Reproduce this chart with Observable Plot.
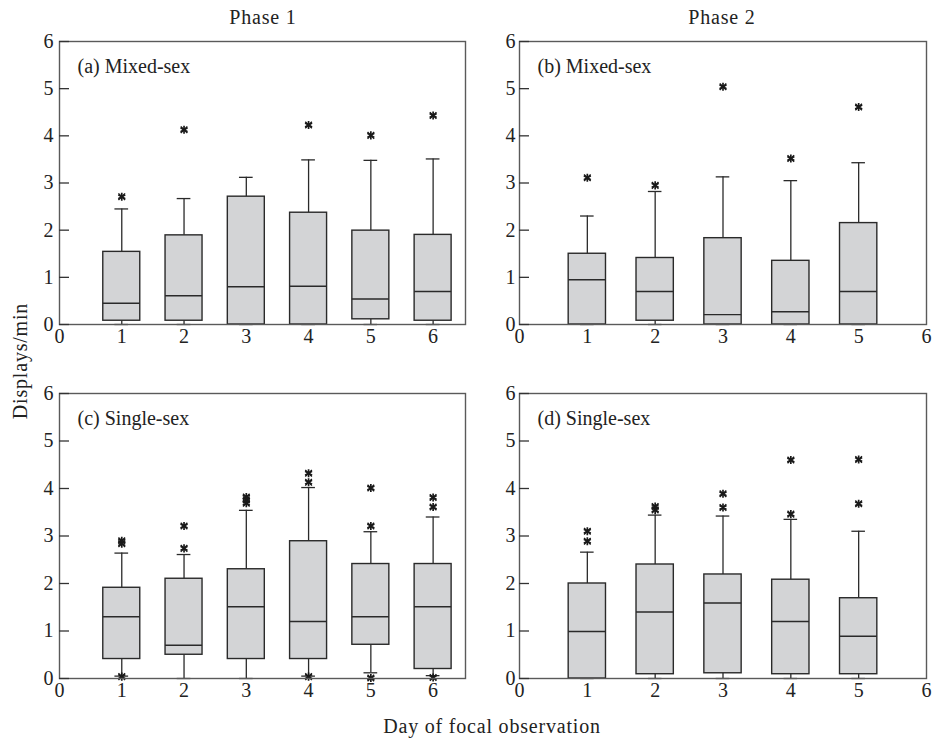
<!DOCTYPE html>
<html><head><meta charset="utf-8">
<script src="https://cdn.jsdelivr.net/npm/d3@7"></script>
<script src="https://cdn.jsdelivr.net/npm/@observablehq/plot@0.6"></script>
<style>
body{margin:0;background:#fff}
#fig{position:relative;width:932px;height:740px;font-family:"Liberation Serif",serif;color:#222}
#fig > svg, #fig > div{position:absolute}
</style>
</head><body><div id="fig"></div>
<script>
// ---- data (Displays/min by day of focal observation) ----
const daysP1 = [1, 2, 3, 4, 5, 6];
const daysP2 = [1, 2, 3, 4, 5];
const yTicks = [0, 1, 2, 3, 4, 5, 6];
const xTicks = [0, 1, 2, 3, 4, 5, 6];

// (a) Phase 1, mixed-sex
const aQ1  = [0.08, 0.08, 0.00, 0.00, 0.11, 0.08];
const aMed = [0.45, 0.61, 0.80, 0.81, 0.54, 0.70];
const aQ3  = [1.54, 1.89, 2.71, 2.37, 1.99, 1.90];
const aLo  = [0.00, 0.00, 0.00, 0.00, 0.00, 0.00];
const aHi  = [2.45, 2.67, 3.12, 3.49, 3.48, 3.51];
const aOut = [[1, 2.71], [2, 4.13], [4, 4.23], [5, 4.01], [6, 4.43]];

// (b) Phase 2, mixed-sex
const bQ1  = [0.00, 0.08, 0.00, 0.00, 0.00];
const bMed = [0.95, 0.70, 0.21, 0.27, 0.70];
const bQ3  = [1.50, 1.41, 1.83, 1.35, 2.15];
const bLo  = [0.00, 0.00, 0.00, 0.00, 0.00];
const bHi  = [2.30, 2.82, 3.13, 3.05, 3.43];
const bOut = [[1, 3.11], [2, 2.95], [3, 5.04], [4, 3.52], [5, 4.61]];

// (c) Phase 1, single-sex
const cQ1  = [0.41, 0.50, 0.41, 0.41, 0.71, 0.20];
const cMed = [1.30, 0.70, 1.51, 1.20, 1.30, 1.51];
const cQ3  = [1.91, 2.10, 2.30, 2.89, 2.41, 2.41];
const cLo  = [0.05, 0.00, 0.00, 0.05, 0.12, 0.06];
const cHi  = [2.64, 2.61, 3.54, 4.02, 3.09, 3.40];
const cOut = [[1, 2.84], [1, 2.90], [1, 0.04], [2, 2.74], [2, 3.21],
              [3, 3.69], [3, 3.76], [3, 3.82], [4, 4.13], [4, 4.32], [4, 0.04],
              [5, 3.21], [5, 4.01], [5, 0.01], [6, 3.61], [6, 3.81], [6, 0.02]];

// (d) Phase 2, single-sex
const dQ1  = [0.00, 0.09, 0.11, 0.09, 0.09];
const dMed = [0.99, 1.40, 1.59, 1.20, 0.89];
const dQ3  = [2.00, 2.40, 2.19, 2.08, 1.69];
const dLo  = [0.00, 0.00, 0.00, 0.00, 0.00];
const dHi  = [2.66, 3.44, 3.42, 3.35, 3.10];
const dOut = [[1, 2.89], [1, 3.10], [2, 3.55], [2, 3.62], [3, 3.60], [3, 3.89],
              [4, 3.46], [4, 4.60], [5, 3.68], [5, 4.61]];

const FONT = "Liberation Serif, Times New Roman, serif";
const fig = document.getElementById("fig");

function panel(o) {
  const rows = o.days.map((d, i) => ({day: d, q1: o.q1[i], med: o.med[i], q3: o.q3[i], lo: o.lo[i], hi: o.hi[i]}));
  const outs = o.out.map(([day, v]) => ({day, v}));
  const ink = "#2a2a2a";
  const hb = o.halfBox, hc = o.halfCap;
  const chart = Plot.plot({
    width: 466, height: 370,
    marginLeft: o.mL, marginRight: o.mR, marginTop: o.mT, marginBottom: o.mB,
    style: {fontFamily: FONT, fontSize: "20px", color: "#222", background: "transparent", overflow: "visible"},
    x: {domain: [0, o.xMax], axis: null},
    y: {domain: [0, 6], axis: null},
    marks: [
      // whiskers
      Plot.ruleX(rows, {x: "day", y1: "q3", y2: "hi", stroke: ink, strokeWidth: 1.3}),
      Plot.ruleX(rows, {x: "day", y1: "lo", y2: "q1", stroke: ink, strokeWidth: 1.3}),
      Plot.ruleY(rows, {y: "hi", x1: d => d.day - hc, x2: d => d.day + hc, stroke: ink, strokeWidth: 1.3}),
      Plot.ruleY(rows, {y: "lo", x1: d => d.day - hc, x2: d => d.day + hc, stroke: ink, strokeWidth: 1.3}),
      // boxes
      Plot.rect(rows, {x1: d => d.day - hb, x2: d => d.day + hb, y1: "q1", y2: "q3",
        fill: "#d3d4d6", stroke: ink, strokeWidth: 1.4}),
      Plot.ruleY(rows, {y: "med", x1: d => d.day - hb, x2: d => d.day + hb, stroke: ink, strokeWidth: 1.4}),
      // outliers
      Plot.dot(outs, {x: "day", y: "v", symbol: "asterisk", r: 3.8, stroke: "#1a1a1a", strokeWidth: 1.7}),
      Plot.dot(outs, {x: "day", y: "v", symbol: "times", r: 3.1, stroke: "#1a1a1a", strokeWidth: 1.4}),
      // frame and axes
      Plot.frame({stroke: "#5a5a5a", strokeWidth: 1.4}),
      Plot.axisY({ticks: yTicks, tickSize: 10, dx: 10, tickFormat: () => "", stroke: "#333", strokeWidth: 1.3, label: null}),
      Plot.axisY({ticks: yTicks, tickSize: 0, tickPadding: o.yPad, tickFormat: d3.format("d"), label: null, fontSize: 20}),
      Plot.axisX({ticks: xTicks, tickSize: 0, tickPadding: 4, tickFormat: d3.format("d"), label: null, fontSize: 20}),
      Plot.text([o.label], {text: d => d, frameAnchor: "top-left", textAnchor: "start", lineAnchor: "bottom",
        dx: o.lx, dy: 31, fontSize: 20, fill: "#222", style: "letter-spacing:0.8px"})
    ]
  });
  chart.style.left = o.left + "px";
  chart.style.top = o.top + "px";
  fig.appendChild(chart);
}

panel({days: daysP1, q1: aQ1, med: aMed, q3: aQ3, lo: aLo, hi: aHi, out: aOut, label: "(a) Mixed-sex",
  left: 0, top: 0, mL: 59, mR: 1, mT: 41, mB: 46, yPad: 6, lx: 18, xMax: 6.52, halfBox: 0.297, halfCap: 0.11});
panel({days: daysP2, q1: bQ1, med: bMed, q3: bQ3, lo: bLo, hi: bHi, out: bOut, label: "(b) Mixed-sex",
  left: 466, top: 0, mL: 53, mR: 6, mT: 41, mB: 46, yPad: 4, lx: 18, xMax: 6, halfBox: 0.275, halfCap: 0.1});
panel({days: daysP1, q1: cQ1, med: cMed, q3: cQ3, lo: cLo, hi: cHi, out: cOut, label: "(c) Single-sex",
  left: 0, top: 355, mL: 59, mR: 1, mT: 38, mB: 47, yPad: 6, lx: 18, xMax: 6.52, halfBox: 0.297, halfCap: 0.11});
panel({days: daysP2, q1: dQ1, med: dMed, q3: dQ3, lo: dLo, hi: dHi, out: dOut, label: "(d) Single-sex",
  left: 466, top: 355, mL: 53, mR: 6, mT: 38, mB: 47, yPad: 4, lx: 18, xMax: 6, halfBox: 0.275, halfCap: 0.1});

// titles and axis labels
const ov = d3.select(fig).append("svg").attr("width", 932).attr("height", 740)
  .style("left", "0px").style("top", "0px").style("pointer-events", "none")
  .attr("font-family", FONT).attr("font-size", 20).attr("fill", "#222").style("letter-spacing", "0.8px");
ov.append("text").attr("x", 263).attr("y", 24).attr("text-anchor", "middle").text("Phase 1");
ov.append("text").attr("x", 722).attr("y", 24).attr("text-anchor", "middle").text("Phase 2");
ov.append("text").attr("x", 492).attr("y", 733).attr("text-anchor", "middle").text("Day of focal observation");
ov.append("text").attr("transform", "translate(27,361) rotate(-90)").attr("text-anchor", "middle").text("Displays/min");
</script>
</body></html>
